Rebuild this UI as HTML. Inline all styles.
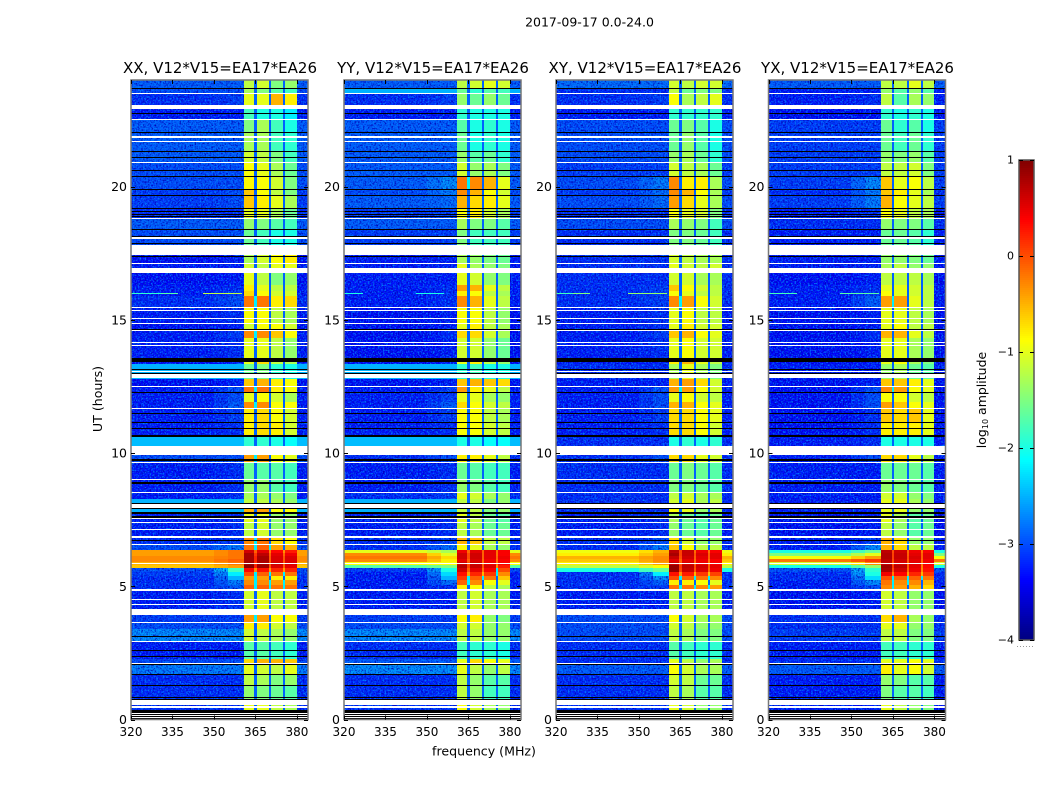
<!DOCTYPE html>
<html lang="en">
<head>
<meta charset="utf-8">
<title>2017-09-17 0.0-24.0</title>
<style>
html,body{margin:0;padding:0;background:#fff;width:1050px;height:800px;overflow:hidden}
svg{display:block}
text{font-family:"DejaVu Sans","Liberation Sans",sans-serif;fill:#000}
</style>
</head>
<body>
<svg id="figure" xmlns="http://www.w3.org/2000/svg" width="1050" height="800" viewBox="0 0 1050 800">
<defs>
<filter id="grainDark" x="0" y="0" width="1" height="1" color-interpolation-filters="sRGB">
<feTurbulence type="fractalNoise" baseFrequency="0.6" numOctaves="2" seed="3" result="n"/>
<feColorMatrix in="n" type="matrix" values="0 0 0 0 0  0 0 0 0 0  0 0 0 0 0.7  2.6 0 0 0 -1.1" result="c"/>
<feComposite in="c" in2="SourceAlpha" operator="in"/>
</filter>
<filter id="grainLight" x="0" y="0" width="1" height="1" color-interpolation-filters="sRGB">
<feTurbulence type="fractalNoise" baseFrequency="0.6" numOctaves="2" seed="11" result="n"/>
<feColorMatrix in="n" type="matrix" values="0 0 0 0 0  0 0 0 0 0.5  0 0 0 0 1  0 3.2 0 0 -1.5" result="c"/>
<feComposite in="c" in2="SourceAlpha" operator="in"/>
</filter>
</defs>
<rect x="0" y="0" width="1050" height="800" fill="#fff"/>
<text x="589.5" y="26.5" font-size="12.5" text-anchor="middle">2017-09-17 0.0-24.0</text>
<text x="484" y="755.5" font-size="12.6" text-anchor="middle">frequency (MHz)</text>
<text x="0" y="0" font-size="12.6" text-anchor="middle" transform="translate(102,399) rotate(-90)">UT (hours)</text>
<text x="0" y="0" font-size="12.5" text-anchor="middle" transform="translate(986,400) rotate(-90)">log<tspan font-size="8" dy="2">10</tspan><tspan dy="-2"> amplitude</tspan></text>
</svg>
<script>
// ---------- chart data ----------
const panelTitles = ["XX, V12*V15=EA17*EA26","YY, V12*V15=EA17*EA26","XY, V12*V15=EA17*EA26","YX, V12*V15=EA17*EA26"];
const xTicks = [320,335,350,365,380];
const yTicks = [0,5,10,15,20];
const cbTicks = [-4,-3,-2,-1,0,1];
const freqEdges = [320,350,355,360.7,364.6,365.4,370,370.7,375.1,375.8,380,384];
// Start hour of each time zone, top of the plot downward
const zoneTops = [24,23.65,23.49,22.9,22.51,22,21.33,20.88,20.36,19.86,19.64,19.16,18.78,18.37,17.43,17.09,16.75,16.3,16.08,15.89,15.44,14.84,14.58,14.31,13.41,13.34,12.78,12.48,12.25,11.91,11.65,11.13,10.6,9.92,9.66,8.99,8.5,8.26,7.94,7.73,7.37,6.85,6.55,6.36,6.25,6.14,6.02,5.91,5.8,5.68,5.53,5.38,5.23,5.05,4.82,3.92,3.62,3.38,2.91,2.27,2.05,1.67,1.26,0.54];
// log10 amplitude per zone: [off-band, near-band shoulder, sub-band 1, 2, 3, 4]
const xxCells = [[-2.9,-2.9,-1.2,-1.1,-1.5,-1.4],[-3,-3,-1.3,-1.5,-1.7,-1.8],[-3.2,-3.1,-1,-1,-.5,-.8],[-3.3,-3.3,-1.8,-2,-2,-2.2],[-2.9,-2.9,-1.5,-1.3,-1.8,-2],[-2.9,-2.9,-1.3,-1.3,-1.8,-1.9],[-2.9,-2.9,-1.1,-1.2,-1.5,-1.8],[-3,-3,-.9,-1,-1.3,-1.6],[-3,-3,-.85,-.9,-1.1,-1.5],[-3.1,-3,-.6,-.9,-1.2,-1.5],[-3.1,-3,-.6,-.8,-1,-1.3],[-3.2,-3.2,-1,-1,-1.3,-1.6],[-2.9,-2.9,-1.4,-1.5,-1.7,-1.8],[-3,-3,-1.6,-1.8,-2,-2],[-3.4,-3.3,-1.3,-1.1,-.9,-.8],[-3.3,-3.3,-1.1,-1.2,-1,-1],[-3.4,-3.3,-1,-1.2,-1.5,-1.4],[-3.3,-3.2,-.8,-1,-1.2,-1.2],[-3.3,-3.1,-.7,-.9,-1.1,-1.1],[-3.2,-3,-.2,-.2,-.8,-.7],[-3.3,-3.2,-.9,-.9,-1.2,-1.3],[-3.4,-3.3,-1.1,-.9,-.9,-1.1],[-3.3,-3.1,-.3,-.3,-.6,-.9],[-3.3,-3.2,-1,-1,-1.2,-1.4],[-3.4,-3.3,-1,-.7,-1.2,-1.3],[-2.5,-2.5,-1.6,-1.5,-1.9,-2],[-3.4,-3.3,-.6,-.5,-.8,-.9],[-3.3,-3,-.2,-.2,-.8,-.9],[-3.3,-3,-1,-.9,-1.1,-1.3],[-3.3,-2.9,-.3,-.3,-.9,-.9],[-3.3,-3.1,-.8,-.7,-.9,-1.1],[-3.3,-3.2,-.8,-.7,-.8,-1.1],[-2.45,-2.45,-1.9,-1.9,-2,-2.1],[-3,-3,-.4,-.4,-.9,-1],[-3.3,-3.2,-1.6,-1.7,-1.7,-1.8],[-3.3,-3.2,-1.4,-1.4,-1.7,-1.8],[-3.3,-3.2,-1.3,-1.3,-1.4,-1.5],[-2.5,-2.5,-1.2,-1.2,-1.3,-1.4],[-2.5,-2.5,-.5,-.4,-.9,-.9],[-3.3,-3.2,-1,-1,-1.4,-1.4],[-3.3,-3.2,-1.2,-1.1,-1.4,-1.4],[-3.2,-3.1,-.3,-.2,-.7,-.9],[-3,-2.7,-.2,-.1,-.4,-.5],[-.4,-.2,.6,.5,.35,.25],[-.4,-.2,.8,.7,.5,.45],[-.3,-.2,.8,.8,.55,.55],[-.3,-.1,.8,.8,.55,.55],[-.5,-.2,.8,.75,.6,.55],[-.6,-.4,.95,.85,.55,.5],[-3,-1.8,.35,.3,.2,.2],[-3.1,-2.2,0,-.1,-.2,-.2],[-3.2,-2.5,-.4,-.4,-.8,-.8],[-3.2,-2.7,-.3,-.3,-.4,-.4],[-3.2,-2.9,-.1,-.1,-.2,-.2],[-3.3,-3.2,-1.1,-1,-1.2,-1.2],[-3.1,-3.1,-.4,-.4,-.9,-.9],[-3,-3,-.8,-.8,-1.1,-1.2],[-2.6,-2.6,-1.1,-1.2,-1.3,-1.4],[-3.3,-3.3,-1.7,-1.7,-1.8,-1.9],[-3,-3,-.7,-.5,-.5,-.6],[-2.7,-2.7,-1,-1.1,-1.2,-1],[-3.2,-3.2,-1.2,-1.3,-1.5,-1.4],[-3.2,-3.2,-1.4,-1.5,-1.6,-1.7],[-3.2,-3.2,-1,-1,-1.2,-1.3]];
const yyCells = [[-2.9,-2.9,-1.2,-1.1,-1,-1.1],[-2.5,-2.5,-1.6,-1.9,-1.7,-1.8],[-3.2,-3.1,-1.4,-1.6,-1.4,-1.6],[-3.3,-3.3,-1.9,-2,-2,-2],[-2.9,-2.9,-1.7,-2,-1.9,-2],[-2.9,-2.9,-1.6,-2,-1.9,-2],[-2.9,-2.9,-1.4,-1.7,-1.6,-1.9],[-2.9,-2.9,-1.1,-1.4,-1.3,-1.5],[-2.9,-2.6,-.2,-.3,-.5,-1],[-3,-2.7,-.3,-.5,-.9,-1.1],[-2.9,-2.8,-.5,-.7,-.8,-1],[-3.1,-3.1,-.9,-.8,-1.1,-1.3],[-2.9,-2.9,-1.3,-1.5,-1.5,-1.7],[-3.1,-3.1,-1.5,-1.8,-1.8,-1.8],[-3.3,-3.3,-1.3,-1.4,-1.5,-1.6],[-3.3,-3.3,-1,-1.3,-1.4,-1.5],[-3.3,-3.3,-1,-1.1,-1.4,-1.5],[-3.3,-3.2,-.4,-.5,-1,-1.2],[-3.3,-3.2,-.8,-.9,-1.2,-1.3],[-3.3,-3.2,-.3,-.5,-1,-1.2],[-3.4,-3.3,-.9,-.9,-1.2,-1.4],[-3.4,-3.3,-1,-.8,-1.2,-1.3],[-3.4,-3.2,-.7,-.7,-1.1,-1.3],[-3.4,-3.3,-1.1,-1.1,-1.4,-1.6],[-3.4,-3.3,-1,-.8,-1.2,-1.4],[-2.5,-2.5,-1.9,-1.8,-2,-2],[-3.4,-3.3,-.6,-.5,-.6,-.7],[-3.3,-3.1,-.4,-.8,-1,-1.2],[-3.3,-3.1,-1,-1,-1.3,-1.4],[-3.3,-2.9,-.7,-.9,-1.1,-1.2],[-3.3,-3.1,-.9,-.9,-1.2,-1.3],[-3.3,-3.2,-.9,-.9,-1.1,-1.2],[-2.45,-2.45,-2,-2,-2.1,-2.1],[-3.2,-3,-.8,-.8,-1,-1.2],[-3.3,-3.2,-1.6,-1.7,-1.8,-1.8],[-3.3,-3.2,-1.4,-1.5,-1.7,-1.8],[-3.2,-3.1,-1,-1.1,-1.3,-1.4],[-2.5,-2.5,-1.2,-1.2,-1.5,-1.4],[-2.5,-2.5,-1.2,-1.2,-1.5,-1.4],[-3.3,-3.2,-1,-1.2,-1.6,-1.7],[-3.3,-3.2,-1.2,-1.3,-1.6,-1.6],[-3.2,-3.1,-.5,-.6,-1.2,-1.2],[-3.2,-2.8,-.9,-1,-1.3,-1.4],[-1,-1.3,.45,.5,.5,.4],[-.3,-1,.6,.6,.5,.4],[-.2,-.7,.6,.6,.5,.45],[-.3,-.8,.5,.55,.45,.4],[-.9,-.9,.6,.6,.45,.4],[-1.7,-1.5,.75,.65,.55,.25],[-3.1,-2,.6,.5,.4,0],[-3.3,-2.3,.3,.2,.1,-.3],[-3.3,-2.5,.1,-.1,-.2,-.6],[-3.3,-2.8,-.1,-.3,-.9,-1],[-3.3,-3.2,-.8,-.9,-1.2,-1.3],[-3.3,-3.3,-1.2,-1.1,-1.3,-1.3],[-3.1,-3.1,-.9,-.8,-1.4,-1.5],[-3,-3,-1.1,-1.1,-1.4,-1.4],[-2.6,-2.6,-1.2,-1.2,-1.4,-1.4],[-3.2,-3.2,-1.8,-1.9,-1.9,-2],[-2.9,-2.9,-1,-.7,-.9,-1],[-2.6,-2.6,-1,-1.2,-1.4,-1.2],[-3.2,-3.2,-1.2,-1.4,-1.7,-1.7],[-3.2,-3.2,-1.2,-1.4,-1.8,-1.8],[-3.2,-3.2,-.9,-1.1,-1.3,-1.4]];
const xyCells = [[-2.8,-2.8,-1.1,-1.2,-1.1,-1.1],[-3.2,-3.2,-1.2,-1.6,-1.5,-1.5],[-3.2,-3.1,-.9,-1.3,-1.2,-1],[-3.3,-3.3,-1.9,-1.9,-1.9,-1.9],[-3,-3,-1.6,-1.5,-1.7,-2],[-3,-3,-1.6,-1.4,-1.7,-2],[-3,-3,-1.4,-1.3,-1.6,-1.9],[-3.1,-3.1,-1.1,-1.2,-1.3,-1.6],[-3,-2.7,-.3,-.8,-.8,-1.3],[-3.1,-2.8,-.3,-.5,-.9,-1.3],[-3,-2.8,-.4,-.7,-1,-1.3],[-3.2,-3.2,-.9,-1,-1.1,-1.5],[-3,-3,-1.3,-1.4,-1.5,-1.8],[-3.2,-3.2,-1.5,-1.5,-1.6,-1.8],[-3.2,-3.2,-1.1,-1.2,-1.3,-1.3],[-3.2,-3.2,-1,-1.1,-1.2,-1.1],[-3.2,-3.2,-1.1,-1.1,-1.3,-1.3],[-3.2,-3.1,-.6,-.9,-1.1,-1.2],[-3.2,-3.1,-.9,-1,-1.2,-1.2],[-3.2,-3.1,-.3,-.4,-.9,-1.1],[-3.3,-3.2,-1,-.9,-1.2,-1.2],[-3.3,-3.2,-1,-.8,-1.1,-1.1],[-3.3,-3.1,-.6,-.5,-.9,-1],[-3.3,-3.2,-1,-.9,-1.1,-1.1],[-3.3,-3.3,-.8,-.5,-1,-1.2],[-3.2,-3.2,-1.3,-1,-1.3,-1.5],[-3.3,-3.3,-.5,-.4,-.7,-1.1],[-3.3,-3,-.4,-.4,-.9,-1.1],[-3.3,-3,-1,-.9,-1.1,-1.2],[-3.3,-3,-.5,-.5,-.9,-1],[-3.3,-3.1,-.7,-.7,-.9,-1],[-3.3,-3.2,-.7,-.7,-.9,-1.1],[-3.2,-3.2,-2,-1.9,-2,-1.9],[-3.2,-3,-.7,-.7,-1,-1.1],[-3.2,-3.2,-1.6,-1.5,-1.6,-1.7],[-3.2,-3.2,-1.5,-1.5,-1.6,-1.7],[-3.2,-3.2,-1.2,-1.1,-1.3,-1.3],[-3.2,-3.2,-1.1,-1,-1.3,-1.2],[-3.2,-3.2,-.9,-1,-1.4,-1.3],[-3.3,-3.2,-1.3,-1.6,-1.7,-1.6],[-3.3,-3.2,-1.4,-1.6,-1.7,-1.6],[-3.2,-3,-.7,-1.1,-1.4,-1.4],[-3.2,-2.7,-.6,-.9,-1.2,-1.2],[-.95,-.5,.7,.65,.45,.4],[-.8,-.4,.8,.65,.55,.5],[-.5,-.3,.65,.6,.5,.5],[-.6,-.3,.5,.5,.45,.4],[-.8,-.4,.6,.55,.45,.4],[-1.2,-.9,.9,.7,.6,.5],[-2,-1.6,.9,.65,.55,.45],[-3.2,-2.2,.3,.25,.1,.05],[-3.2,-2.6,0,-.1,-.2,-.3],[-3.2,-2.9,-.8,-.8,-.9,-1],[-3.2,-3.1,-.2,-.2,-.3,-.4],[-3.3,-3.3,-1.2,-1.2,-1.3,-1.3],[-3,-3,-.9,-1.1,-1.3,-1.3],[-3,-3,-1.1,-1.2,-1.4,-1.4],[-3,-3,-1.2,-1.3,-1.5,-1.5],[-3.2,-3.2,-1.7,-1.8,-1.9,-1.9],[-3.2,-3.2,-1,-1.2,-1.4,-1.3],[-2.9,-2.9,-.9,-1.1,-1.3,-1.3],[-3.2,-3.2,-1.1,-1.2,-1.6,-1.6],[-3.2,-3.2,-1.2,-1.3,-1.7,-1.7],[-3.2,-3.2,-1,-1.1,-1.4,-1.4]];
const yxCells = [[-2.9,-2.9,-1.2,-1.2,-1,-1.2],[-3.3,-3.3,-1.4,-1.7,-1.4,-1.7],[-3.3,-3.2,-1.2,-1.7,-1.3,-1.4],[-3.4,-3.4,-1.9,-2,-1.9,-2],[-3.1,-3.1,-1.6,-1.9,-1.7,-2],[-3.1,-3.1,-1.6,-1.8,-1.6,-1.9],[-3.1,-3.1,-1.4,-1.5,-1.4,-1.7],[-3.1,-3.1,-1.2,-1.2,-1.1,-1.5],[-3.1,-2.6,-.6,-1,-.9,-1.2],[-3.2,-2.7,-.6,-.8,-1,-1.3],[-3.1,-2.7,-.5,-.9,-1,-1.2],[-3.3,-3.2,-.9,-1,-1.2,-1.3],[-3.2,-3.2,-1.4,-1.5,-1.5,-1.7],[-3.3,-3.3,-1.6,-1.6,-1.7,-1.9],[-3.3,-3.3,-1.4,-1.4,-1.5,-1.6],[-3.3,-3.3,-1.3,-1.2,-1.4,-1.4],[-3.4,-3.3,-1.2,-1.2,-1.2,-1.3],[-3.3,-3.2,-1,-1,-1.1,-1.2],[-3.3,-3.1,-.9,-1,-1.1,-1.2],[-3.3,-2.9,-.4,-.4,-1,-1.2],[-3.4,-3.3,-1,-1,-1.2,-1.3],[-3.4,-3.3,-1,-.9,-1.2,-1.2],[-3.4,-3.2,-.5,-.5,-1,-1.2],[-3.4,-3.3,-1,-1,-1.3,-1.4],[-3.4,-3.3,-1,-.9,-1.3,-1.5],[-3.3,-3.3,-1.4,-1.3,-1.6,-1.7],[-3.4,-3.3,-.6,-.6,-.8,-1],[-3.4,-3,-.3,-.4,-.9,-1],[-3.4,-3,-.9,-.9,-1.1,-1.2],[-3.4,-3,-.4,-.6,-.9,-1],[-3.4,-3.2,-.6,-.7,-.6,-1],[-3.4,-3.2,-.8,-.8,-.8,-1],[-3.3,-3.2,-2,-2,-2,-2],[-3.3,-3,-.7,-.7,-1,-1.2],[-3.3,-3.3,-1.6,-1.6,-1.6,-1.7],[-3.3,-3.3,-1.4,-1.5,-1.6,-1.7],[-3.3,-3.3,-1.1,-1.1,-1.4,-1.5],[-3.3,-3.3,-1,-1,-1.3,-1.4],[-3.3,-3.3,-1,-1,-1.4,-1.4],[-3.4,-3.3,-1,-1.3,-1.7,-1.6],[-3.4,-3.3,-1.2,-1.4,-1.7,-1.6],[-3.3,-3.1,-.5,-.7,-1.4,-1.4],[-3.3,-2.6,-.5,-.7,-1.2,-1.2],[-2,-1.6,.7,.6,.45,.4],[-1.5,-1,.75,.65,.5,.5],[-.9,-.4,.75,.65,.55,.5],[-.2,.1,.7,.6,.5,.45],[-1.1,-.3,.65,.55,.5,.4],[-2,-1.4,.85,.7,.5,.35],[-3,-1.9,.8,.6,.45,.3],[-3.2,-2,.45,.35,.2,.1],[-3.2,-2.3,0,-.1,-.1,-.2],[-3.3,-2.6,-.2,-.3,-.3,-.5],[-3.3,-3,-.3,-.4,-.5,-.7],[-3.4,-3.3,-1.1,-1.2,-1.4,-1.4],[-3.2,-3.2,-.7,-.5,-1.3,-1.4],[-3.2,-3.2,-1,-1,-1.4,-1.4],[-3.1,-3.1,-1.2,-1.2,-1.5,-1.5],[-3.3,-3.3,-1.8,-1.8,-1.9,-1.9],[-3.2,-3.2,-1,-1,-.9,-1],[-2.9,-2.9,-.8,-1,-.9,-1.1],[-3.3,-3.3,-1.4,-1.5,-1.7,-1.7],[-3.3,-3.3,-1.5,-1.7,-1.7,-1.8],[-3.3,-3.3,-1,-1.2,-1.4,-1.5]];
const panelCells = [xxCells,yyCells,xyCells,yxCells];
// Flagged time ranges (hours): W blanks the data, K is a zero-valued flagged dump
const flagStart = [23.7,23.51,23.06,22.76,22.55,22.05,21.88,21.71,21.33,21.11,20.92,20.62,20.39,19.91,19.68,19.19,19.08,18.97,18.89,18.82,18.41,18.14,18.09,17.9,17.79,17.39,17.13,16.94,15.48,15.37,15.07,14.88,14.65,14.62,14.17,14.05,13.56,13.15,13.08,13.02,12.98,12.51,12.29,11.69,11.5,11.16,10.94,10.66,10.28,9.79,9.66,9.04,8.91,8.54,8.11,8.07,7.95,7.77,7.62,7.56,7.41,7.15,6.87,6.75,6.59,5.87,4.9,4.54,4.35,4.15,3.66,3.15,2.96,2.61,2.38,2.12,2.08,1.71,1.29,0.86,0.77,0.73,0.49,0.36,0.24,0.21,0.17,0.13,0.09,0.06];
const flagEnd = [23.66,23.47,22.91,22.72,22.5,22.01,21.84,21.67,21.29,21.07,20.88,20.58,20.36,19.87,19.64,19.16,19.04,18.93,18.86,18.78,18.37,18.11,18.05,17.86,17.43,17.35,17.09,16.75,15.44,15.33,15.03,14.84,14.62,14.58,14.13,14.02,13.41,13.11,13.04,12.98,12.8,12.48,12.25,11.65,11.46,11.13,10.9,10.6,9.92,9.7,9.62,9.01,8.82,8.5,8.07,7.95,7.92,7.73,7.58,7.52,7.37,7.11,6.83,6.72,6.55,5.82,4.82,4.5,4.32,3.92,3.62,3.11,2.89,2.57,2.33,2.08,2.05,1.67,1.26,0.81,0.73,0.54,0.45,0.24,0.21,0.17,0.13,0.09,0.06,0];
const flagKind = "KWWKWKWWKKWKKKKKKKKWKKWKWKWWWWWWKWWWKKWKWWKWKKKKWKWWKWKWKKKWWWWKWWWWWWWKWKKWKKKKKWWKWKWKWK";
// Narrow RFI streak near 16 h: panel index, start MHz, end MHz, log amplitude
const streakPanel = [0,0,0,1,1,2,2,2,3,3];
const streakStart = [320,331,346,320,346,320,326,346,320,346];
const streakEnd = [331,337,360,327,356,326,332,360,330,360];
const streakLevel = [-1.9,-1.7,-1.2,-2,-2,-1.8,-1.5,-1.4,-1.8,-1.7];
const streakHour = 16.02;

// ---------- scales ----------
const svg = document.getElementById('figure');
const NS = 'http://www.w3.org/2000/svg';
const panelLeft = [131,344,556,768.5];
const panelWidth = 177;
const plotTop = 80, plotBottom = 719.5, hourMax = 24;
const freqMin = 320, freqMax = 384;
const bandStart = 360.7, shoulderStart = 355, bandEnd = 380, grainCutoff = -2.55;
const cbLeft = 1019, cbRight = 1034, cbTop = 160, cbBottom = 640, cbMin = -4, cbMax = 1;

function xScale(p, f){ return panelLeft[p] + (f - freqMin) / (freqMax - freqMin) * panelWidth; }
function yScale(h){ return plotBottom - h / hourMax * (plotBottom - plotTop); }
function cbScale(v){ return cbBottom - (v - cbMin) / (cbMax - cbMin) * (cbBottom - cbTop); }
function jetPart(t, c){ return Math.max(0, Math.min(1, 1.5 - Math.abs(4 * t - c))); }
function jet(v){
  const t = Math.max(0, Math.min(1, (v - cbMin) / (cbMax - cbMin)));
  const r = Math.round(255 * jetPart(t, 3));
  const g = Math.round(255 * jetPart(t, 2));
  const b = Math.round(255 * jetPart(t, 1));
  return 'rgb(' + r + ',' + g + ',' + b + ')';
}
function make(tag, props, parent){
  const el = document.createElementNS(NS, tag);
  for (const k in props) el.setAttribute(k, props[k]);
  parent.appendChild(el);
  return el;
}
function gapLevel(a, b){
  const m = Math.min(a, b);
  if (m > 0) return m - 0.6;
  return m > -0.5 ? -2.2 : -2.9;
}
// Expand a zone's six readings to one level per frequency bin
function binLevels(z){
  return [z[0], (z[0] + z[1]) / 2, z[1], z[2], gapLevel(z[2], z[3]), z[3], gapLevel(z[3], z[4]), z[4], gapLevel(z[4], z[5]), z[5], z[0]];
}
function drawBox(x0, y0, x1, y1, parent, color, width){
  const box = make('rect', {x:x0, y:y0, width:x1 - x0, height:y1 - y0, fill:'none', stroke:color, 'stroke-width':width}, parent);
  return box;
}
function addGrain(p, parent, y0, y1, f0, f1){
  const x0 = Math.round(xScale(p, f0)), x1 = Math.round(xScale(p, f1));
  const patch = make('rect', {x:x0, y:y0, width:x1 - x0, height:y1 - y0, fill:'#000'}, parent);
  
  
}

// ---------- panels ----------
panelCells.forEach(function(cells, p){
  const g = make('g', {}, svg);
  
  
  const heat = make('g', {'shape-rendering':'crispEdges'}, g);
  
  
  const left = Math.round(xScale(p, freqMin)), right = Math.round(xScale(p, freqMax));

  zoneTops.forEach(function(top, r){
    const bottom = r + 1 < zoneTops.length ? zoneTops[r + 1] : 0;
    const y0 = Math.round(yScale(top)), y1 = Math.round(yScale(bottom));
    const levels = binLevels(cells[r]);
    levels.forEach(function(v, c){
      const x0 = Math.round(xScale(p, freqEdges[c])), x1 = Math.round(xScale(p, freqEdges[c + 1]));
      const cell = make('rect', {x:x0, y:y0, width:x1 - x0, height:y1 - y0, fill:jet(v)}, heat);
      
      
    });
  });

  ['grainDark','grainLight'].forEach(function(fid){
    const grain = make('g', {filter:'url(#' + fid + ')', 'shape-rendering':'crispEdges'}, g);
    
    
    zoneTops.forEach(function(top, r){
      const bottom = r + 1 < zoneTops.length ? zoneTops[r + 1] : 0;
      const y0 = Math.round(yScale(top)), y1 = Math.round(yScale(bottom));
      const z = cells[r];
      if (z[0] < grainCutoff) {
        addGrain(p, grain, y0, y1, freqMin, shoulderStart);
        addGrain(p, grain, y0, y1, bandEnd, freqMax);
      }
      if (z[1] < grainCutoff) addGrain(p, grain, y0, y1, shoulderStart, bandStart);
    });
  });

  const overlay = make('g', {'shape-rendering':'crispEdges'}, g);
  
  

  streakPanel.forEach(function(sp, i){
    if (sp !== p) return;
    const x0 = xScale(p, streakStart[i]), x1 = xScale(p, streakEnd[i]);
    const streak = make('rect', {x:Math.round(x0), y:Math.round(yScale(streakHour)), width:Math.round(x1 - x0), height:1, fill:jet(streakLevel[i])}, overlay);
    
    
  });

  flagStart.forEach(function(start, i){
    const y0 = Math.round(yScale(start));
    const y1 = Math.max(y0 + 1, Math.round(yScale(flagEnd[i])));
    const flag = make('rect', {x:left, y:y0, width:right - left, height:y1 - y0, fill:flagKind[i] === 'K' ? '#000' : '#fff'}, overlay);
    
    
  });

  const frame = drawBox(xScale(p, freqMin), plotTop, xScale(p, freqMax), plotBottom, g, '#777', 1.5);
  
  

  xTicks.forEach(function(f){
    const x = Math.round(xScale(p, f)) + 0.5;
    const lo = make('line', {x1:x, x2:x, y1:plotBottom, y2:plotBottom - 4, stroke:'#000', 'stroke-width':1}, g);
    
    
    const hi = make('line', {x1:x, x2:x, y1:plotTop, y2:plotTop + 4, stroke:'#000', 'stroke-width':1}, g);
    
    
    const label = make('text', {x:xScale(p, f), y:736, 'font-size':12, 'text-anchor':'middle'}, g);
    label.textContent = String(f);
    
    
  });

  yTicks.forEach(function(h){
    const y = Math.round(yScale(h)) + 0.5;
    const lo = make('line', {x1:xScale(p, freqMin), x2:xScale(p, freqMin) + 4, y1:y, y2:y, stroke:'#000', 'stroke-width':1}, g);
    
    
    const hi = make('line', {x1:xScale(p, freqMax), x2:xScale(p, freqMax) - 4, y1:y, y2:y, stroke:'#000', 'stroke-width':1}, g);
    
    
    const label = make('text', {x:xScale(p, freqMin) - 4, y:yScale(h) + 4.5, 'font-size':12.5, 'text-anchor':'end'}, g);
    label.textContent = String(h);
    
    
  });

  const title = make('text', {x:xScale(p, freqMin) + panelWidth / 2 + 0.5, y:73, 'font-size':15, 'text-anchor':'middle'}, g);
  title.textContent = panelTitles[p];
  
  
});

// ---------- colorbar ----------
const cb = make('g', {}, svg);


const cbRamp = make('g', {'shape-rendering':'crispEdges'}, cb);


for (let py = cbTop; py < cbBottom; py += 2) {
  const v = cbMax - (py + 1 - cbTop) / (cbBottom - cbTop) * (cbMax - cbMin);
  const strip = make('rect', {x:cbLeft, y:py, width:cbRight - cbLeft, height:2, fill:jet(v)}, cbRamp);
  
  
}
const cbFrame = drawBox(cbLeft, cbTop, cbRight, cbBottom, cb, '#555', 1.5);


cbTicks.forEach(function(v){
  const y = Math.round(cbScale(v)) + 0.5;
  const lo = make('line', {x1:cbLeft, x2:cbLeft + 4, y1:y, y2:y, stroke:'#000', 'stroke-width':1}, cb);
  
  
  const hi = make('line', {x1:cbRight - 4, x2:cbRight, y1:y, y2:y, stroke:'#000', 'stroke-width':1}, cb);
  
  
  const label = make('text', {x:1014, y:cbScale(v) + 3.5, 'font-size':11, 'text-anchor':'end'}, cb);
  label.textContent = v < 0 ? '\u2212' + Math.abs(v) : String(v);
  
  
});
const cbDots = make('line', {x1:cbLeft - 2, x2:cbRight, y1:646.5, y2:646.5, stroke:'#999', 'stroke-width':1, 'stroke-dasharray':'1 2'}, cb);


</script>
</body>
</html>
